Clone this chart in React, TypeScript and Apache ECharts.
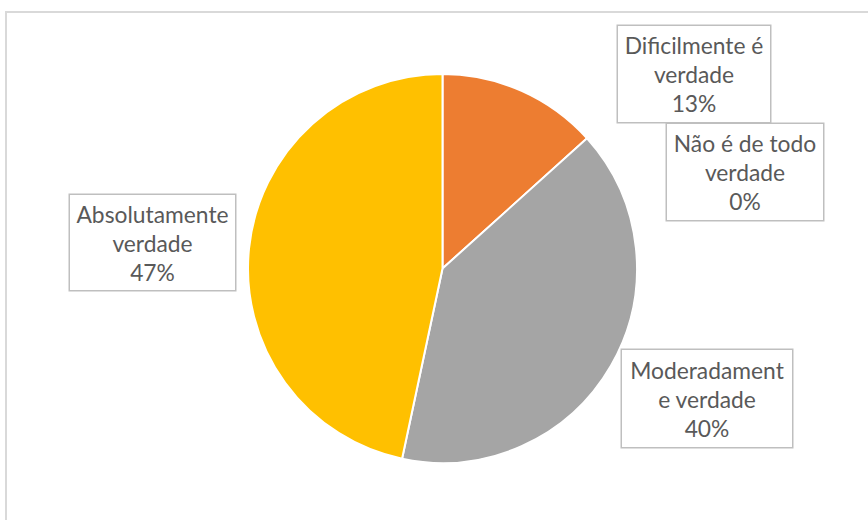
import React, { useEffect, useRef } from "react";
import * as echarts from "echarts";

const categories = [
  "Não é de todo verdade",
  "Dificilmente é verdade",
  "Moderadamente verdade",
  "Absolutamente verdade",
];
const values = [0, 2, 6, 7];
const labelLines = [
  ["Não é de todo", "verdade"],
  ["Dificilmente é", "verdade"],
  ["Moderadament", "e verdade"],
  ["Absolutamente", "verdade"],
];
const colors = ["#4472C4", "#ED7D31", "#A5A5A5", "#FFC000"];

// label box layout (center x, center y, width, height)
const labelBoxes = [
  [745, 172, 156, 96],
  [694, 74, 152, 96],
  [707, 398.5, 170, 97],
  [152.5, 242.5, 165, 95],
];

export default function App() {
  const ref = useRef<HTMLDivElement>(null);
  useEffect(() => {
    if (!ref.current) return;
    const chart = echarts.init(ref.current, undefined, { renderer: "svg" });
    chart.setOption({
      animation: false,
      backgroundColor: "#ffffff",
      graphic: [
        {
          type: "rect",
          shape: { x: 6, y: 12, width: 900, height: 600 },
          style: { fill: "none", stroke: "#d9d9d9", lineWidth: 2 },
          silent: true,
        },
      ],
      series: [
        {
          type: "pie",
          center: [442.5, 268.5],
          radius: [0, 194.5],
          startAngle: 90,
          clockwise: true,
          percentPrecision: 0,
          avoidLabelOverlap: false,
          itemStyle: { borderColor: "#ffffff", borderWidth: 2 },
          labelLine: { show: false },
          emphasis: { disabled: true },
          data: categories.map((name, i) => ({
            name,
            value: values[i],
            itemStyle: { color: colors[i] },
            label: {
              width: labelBoxes[i][2] - 4,
              height: labelBoxes[i][3] - 4,
            },
          })),
          label: {
            show: true,
            position: "outside",
            formatter: (p: any) =>
              labelLines[p.dataIndex].join("\n") + "\n" + p.percent + "%",
            fontFamily: "Lato",
            fontSize: 22.8,
            lineHeight: 29,
            color: "#595959",
            align: "center",
            verticalAlign: "middle",
            backgroundColor: "#ffffff",
            borderColor: "#bfbfbf",
            borderWidth: 1.5,
            padding: [2, 2],
          },
          labelLayout: (p: any) => {
            const b = labelBoxes[p.dataIndex];
            return {
              x: b[0],
              y: b[1],
              align: "center",
              verticalAlign: "middle",
            };
          },
        },
      ],
    });
    return () => chart.dispose();
  }, []);
  return (
    <div
      ref={ref}
      style={{ position: "fixed", left: 0, top: 0, width: 868, height: 520 }}
    />
  );
}
